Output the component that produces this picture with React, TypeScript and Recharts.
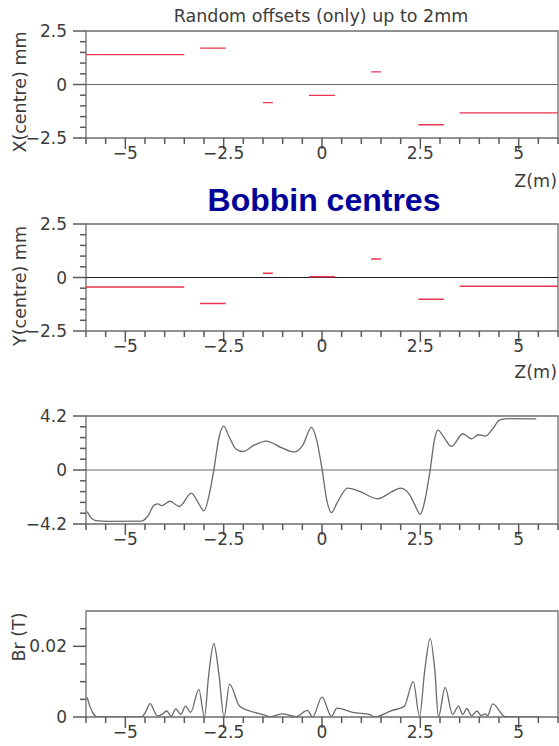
import React from 'react';
import { LineChart, Line, XAxis, YAxis, ReferenceLine, ReferenceArea } from 'recharts';

// z positions of the bobbins (m) and their random offsets (mm)
const segStart = [-6, -3.1, -1.5, -0.33, 1.25, 2.45, 3.5];
const segEnd = [-3.5, -2.45, -1.25, 0.33, 1.5, 3.1, 6];
const xOffset = [1.4, 1.7, -0.85, -0.51, 0.59, -1.88, -1.33];
const yOffset = [-0.44, -1.22, 0.2, 0.04, 0.86, -1.02, -0.41];

// on-axis field profile
const fieldZ = [-5.97, -5.88, -5.75, -5.43, -4.58, -4.44, -4.26, -4.17, -4.08, -3.86, -3.63, -3.32, -3.14, -3.0, -2.86, -2.75, -2.62, -2.5, -2.37, -2.19, -2.01, -1.74, -1.42, -1.02, -0.7, -0.48, -0.27, -0.14, 0, 0.12, 0.24, 0.38, 0.65, 0.96, 1.41, 1.77, 2.0, 2.23, 2.36, 2.5, 2.6, 2.75, 2.86, 2.95, 3.08, 3.29, 3.58, 3.8, 3.98, 4.16, 4.34, 4.52, 4.75, 5.45];
const fieldV = [-3.24, -3.68, -3.94, -3.99, -3.97, -3.63, -2.71, -2.64, -2.77, -2.43, -2.84, -1.8, -2.58, -3.18, -1.8, 0, 2.51, 3.42, 2.64, 1.64, 1.44, 1.91, 2.24, 1.72, 1.41, 1.98, 3.31, 2.38, 0.08, -2.32, -3.31, -2.58, -1.41, -1.67, -2.24, -1.7, -1.41, -1.93, -2.71, -3.44, -2.58, 0, 2.38, 3.1, 2.64, 1.83, 2.82, 2.43, 2.74, 2.64, 3.21, 3.89, 3.99, 3.97];

// radial field Br (T)
const brZ = [-5.97, -5.9, -5.8, -5.7, -4.6, -4.5, -4.37, -4.25, -4.19, -4.08, -3.95, -3.83, -3.72, -3.59, -3.47, -3.34, -3.13, -2.99, -2.88, -2.75, -2.62, -2.49, -2.35, -2.1, -1.83, -1.42, -1.33, -1.02, -0.66, -0.37, -0.24, 0, 0.24, 0.38, 0.78, 1.23, 1.32, 1.77, 2.09, 2.32, 2.48, 2.61, 2.75, 2.87, 2.96, 3.13, 3.32, 3.47, 3.58, 3.68, 3.8, 3.94, 4.05, 4.14, 4.21, 4.34, 4.66, 5.5];
const brV = [0.0056, 0.003, 0.0007, 0, 0, 0.0011, 0.0038, 0.0013, 0.0003, 0.00065, 0.0017, 0.0002, 0.0023, 0.0007, 0.0031, 0.0013, 0.0078, 0, 0.012, 0.0208, 0.012, 0, 0.0093, 0.0031, 0.0017, 0.0004, 0, 0.0009, 0.0001, 0.0019, 0, 0.0056, 0.0002, 0.0025, 0.0013, 0.0007, 0, 0.0018, 0.003, 0.01, 0.0002, 0.013, 0.0222, 0.013, 0, 0.0084, 0.0007, 0.0031, 0.0007, 0.0024, 0.0004, 0.0017, 0.0004, 0.0009, 0.0004, 0.0037, 0.0001, 0];

// axis ticks
const zTicks = [-6, -5.5, -5, -4.5, -4, -3.5, -3, -2.5, -2, -1.5, -1, -0.5, 0, 0.5, 1, 1.5, 2, 2.5, 3, 3.5, 4, 4.5, 5, 5.5, 6];
const zLabels = [-5, -2.5, 0, 2.5, 5];
const offTicks = [-2.5, -2, -1.5, -1, -0.5, 0, 0.5, 1, 1.5, 2, 2.5];
const offLabels = [-2.5, 0, 2.5];
const fieldTicks = [-4.2, -3.36, -2.52, -1.68, -0.84, 0, 0.84, 1.68, 2.52, 3.36, 4.2];
const fieldLabels = [-4.2, 0, 4.2];
const brTicks = [0, 0.005, 0.01, 0.015, 0.02, 0.025];
const brLabels = [0, 0.02];

const FONT = '"DejaVu Sans", sans-serif';
const TXT = '#3c3c3c';
const AX = '#6e6e6e';
const TK = '#5a5a5a';
const RED = '#e8364c';
const CURVE = '#6a6a6a';
const PLOT_W = 472;

const fmt = (v: number) => (v < 0 ? '\u2212' + String(-v) : String(v));
const has = (arr: number[], v: number) => arr.some((a) => Math.abs(a - v) < 1e-9);

const segData = (off: number[]) => {
  const out: { z: number; v: number | null }[] = [];
  off.forEach((o, i) => {
    out.push({ z: segStart[i], v: o });
    out.push({ z: segEnd[i], v: o });
    if (i < off.length - 1) out.push({ z: (segEnd[i] + segStart[i + 1]) / 2, v: null });
  });
  return out;
};

const pairs = (zs: number[], vs: number[]) => zs.map((z, i) => ({ z, v: vs[i] }));

const XTick = (props: any) => {
  const major = has(zLabels, props.payload.value);
  if (!major) return <g />;
  return (
    <text x={props.x} y={Number(props.y) + 21} textAnchor="middle" fontFamily={FONT} fontSize={17} fill={TXT}>
      {fmt(props.payload.value)}
    </text>
  );
};

const makeYTick = (labels: number[]) => (props: any) => {
  const major = has(labels, props.payload.value);
  if (!major) return <g />;
  return (
    <text x={Number(props.x) - 19} y={props.y} dy="0.36em" textAnchor="end" fontFamily={FONT} fontSize={17} fill={TXT}>
      {fmt(props.payload.value)}
    </text>
  );
};

type PanelProps = {
  top: number;
  h: number;
  domain: [number, number];
  ticks: number[];
  labels: number[];
  zeroColor?: string;
  series: React.ReactNode;
};

const Panel = ({ top, h, domain, ticks, labels, zeroColor, series }: PanelProps) => {
  const [lo, hi] = domain;
  const perPxY = (hi - lo) / h;
  const perPxX = 12 / PLOT_W;
  return (
    <div style={{ position: 'absolute', left: 0, top: top - 30 }}>
      <LineChart width={559} height={h + 60} margin={{ top: 30, right: 1, bottom: 0, left: 0 }}>
        <XAxis
          dataKey="z"
          type="number"
          domain={[-6, 6]}
          ticks={zTicks}
          interval={0}
          height={30}
          tickSize={0}
          tickMargin={0}
          axisLine={false}
          tickLine={false}
          allowDataOverflow
          tick={XTick}
        />
        <YAxis
          type="number"
          domain={domain}
          ticks={ticks}
          interval={0}
          width={86}
          tickSize={0}
          tickMargin={0}
          axisLine={false}
          tickLine={false}
          allowDataOverflow
          tick={makeYTick(labels)}
        />
        <ReferenceArea x1={-6} x2={6} y1={lo} y2={hi} fill="none" fillOpacity={0} stroke={AX} strokeWidth={1.3} />
        {zeroColor && <ReferenceLine y={0} stroke={zeroColor} strokeWidth={1.2} />}
        {zTicks.map((t) => (
          <ReferenceLine
            key={'xt' + t}
            segment={[{ x: t, y: lo }, { x: t, y: lo - (has(zLabels, t) ? 11 : 6) * perPxY }]}
            ifOverflow="visible"
            stroke={TK}
            strokeWidth={1.5}
          />
        ))}
        {ticks.map((t) => (
          <ReferenceLine
            key={'yt' + t}
            segment={[{ x: -6, y: t }, { x: -6 - (has(labels, t) ? 13 : 6) * perPxX, y: t }]}
            ifOverflow="visible"
            stroke={TK}
            strokeWidth={1.5}
          />
        ))}
        {series}
      </LineChart>
    </div>
  );
};

export default function App() {
  return (
    <div style={{ position: 'absolute', left: 0, top: 0, width: 559, height: 746, background: '#fff' }}>
      <Panel
        top={31}
        h={107}
        domain={[-2.5, 2.5]}
        ticks={offTicks}
        labels={offLabels}
        zeroColor="#6a6a6a"
        series={<Line data={segData(xOffset)} dataKey="v" type="linear" stroke={RED} strokeWidth={1.3} dot={false} connectNulls={false} isAnimationActive={false} />}
      />
      <Panel
        top={224}
        h={107}
        domain={[-2.5, 2.5]}
        ticks={offTicks}
        labels={offLabels}
        zeroColor="#1c1c2c"
        series={<Line data={segData(yOffset)} dataKey="v" type="linear" stroke={RED} strokeWidth={1.5} dot={false} connectNulls={false} isAnimationActive={false} />}
      />
      <Panel
        top={416}
        h={108}
        domain={[-4.2, 4.2]}
        ticks={fieldTicks}
        labels={fieldLabels}
        zeroColor="#6a6a6a"
        series={<Line data={pairs(fieldZ, fieldV)} dataKey="v" type="monotone" stroke={CURVE} strokeWidth={1.3} dot={false} isAnimationActive={false} />}
      />
      <Panel
        top={611}
        h={106}
        domain={[0, 0.03]}
        ticks={brTicks}
        labels={brLabels}
        series={<Line data={pairs(brZ, brV)} dataKey="v" type="monotone" stroke={CURVE} strokeWidth={1.3} dot={false} isAnimationActive={false} />}
      />
      <svg width={559} height={746} style={{ position: 'absolute', left: 0, top: 0, pointerEvents: 'none' }}>
        <text x={321} y={22} textAnchor="middle" fontFamily={FONT} fontSize={17.5} fill={TXT}>
          Random offsets (only) up to 2mm
        </text>
        <text x={324} y={211} textAnchor="middle" fontFamily='"Liberation Sans", Arial, sans-serif' fontWeight="bold" fontSize={32} fill="#000099">
          Bobbin centres
        </text>
        <text x={557} y={187} textAnchor="end" fontFamily={FONT} fontSize={17.5} fill={TXT}>Z(m)</text>
        <text x={557} y={378} textAnchor="end" fontFamily={FONT} fontSize={17.5} fill={TXT}>Z(m)</text>
        <text transform="translate(20,92) rotate(-90)" dy="0.35em" textAnchor="middle" fontFamily={FONT} fontSize={17.5} fill={TXT}>
          X(centre) mm
        </text>
        <text transform="translate(20,286) rotate(-90)" dy="0.35em" textAnchor="middle" fontFamily={FONT} fontSize={17.5} fill={TXT}>
          Y(centre) mm
        </text>
        <text transform="translate(19,637) rotate(-90)" dy="0.35em" textAnchor="middle" fontFamily={FONT} fontSize={17.5} fill={TXT}>
          Br (T)
        </text>
      </svg>
    </div>
  );
}
